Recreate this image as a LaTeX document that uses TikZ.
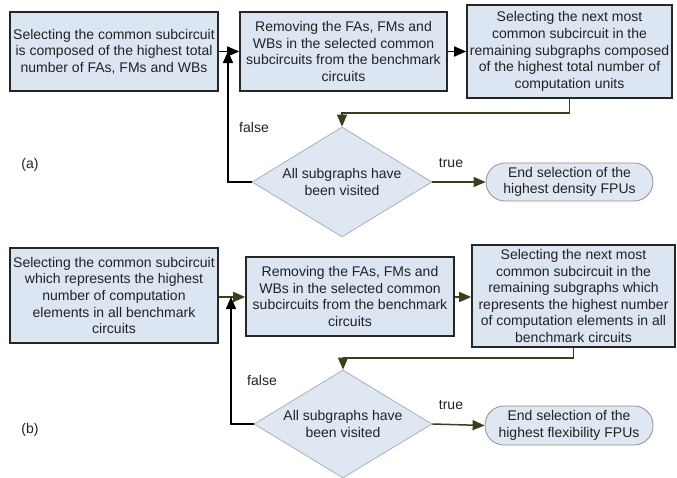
\documentclass[tikz,border=0pt]{standalone}
\usepackage{fontspec}
\setmainfont{Liberation Sans}
\usetikzlibrary{shapes.geometric,arrows.meta}
\definecolor{boxfill}{HTML}{DCE6F2}
\definecolor{dfill}{HTML}{DFE7F3}
\definecolor{olive}{HTML}{3E3E1C}
\definecolor{txt}{HTML}{222222}
\definecolor{dborder}{HTML}{A8B0BE}
\definecolor{tborder}{HTML}{8C9098}
\begin{document}
\begin{tikzpicture}[x=1pt,y=-1pt,
  every node/.style={text=txt,font=\fontsize{14}{16.6}\selectfont},
  procbox/.style={draw=black!85,line width=1.6pt,fill=boxfill,inner sep=0pt,align=center},
  decbox/.style={diamond,draw=dborder,line width=0.8pt,fill=dfill,inner sep=0pt,aspect=1.64,
    minimum width=180pt,minimum height=110pt,align=center},
  termbox/.style={draw=tborder,line width=0.8pt,fill=dfill,inner sep=0pt,rounded corners=19pt,align=center},
  blk/.style={draw=black,line width=1.5pt,-{Triangle[length=12pt,width=10pt]}},
  olv/.style={draw=olive,line width=1.5pt,-{Triangle[length=12pt,width=10pt]}},
  lbl/.style={inner sep=0pt}]
\useasboundingbox (0,0) rectangle (677,477);
% ---------- (a) ----------
\node[procbox,minimum width=208pt,minimum height=79pt] (a1) at (114,51.5)
  {Selecting the common subcircuit\\is composed of the highest total\\number of FAs, FMs and WBs};
\node[procbox,minimum width=207pt,minimum height=79pt] (a2) at (343.5,51.5)
  {Removing the FAs, FMs and\\WBs in the selected common\\subcircuits from the benchmark\\circuits};
\node[procbox,minimum width=205pt,minimum height=93pt] (a3) at (569.5,51.5)
  {Selecting the next most\\common subcircuit in the\\remaining subgraphs composed\\of the highest total number of\\computation units};
\node[decbox] (da) at (342,182) {All subgraphs have\\been visited};
\node[termbox,minimum width=167pt,minimum height=38pt] (ta) at (569.5,182)
  {End selection of the\\highest density FPUs};
\coordinate (fa) at (228,51);
\coordinate (ka) at (569.5,113);
\draw[blk] (a1) -- (a2);
\draw[blk] (a2) -- (a3);
\draw[olv] (a3.south) -- (ka) -| (da.north);
\draw[olv] (da.east) -- (ta.west);
\draw[blk] (da.west) -| (fa);
\node[lbl] (fla) at (254,127) {false};
\node[lbl] (tra) at (451,163) {true};
\node[lbl] (pa) at (30,165) {(a)};
% ---------- (b) ----------
\node[procbox,minimum width=208pt,minimum height=95pt] (b1) at (114,295.5)
  {Selecting the common subcircuit\\which represents the highest\\number of computation\\elements in all benchmark\\circuits};
\node[procbox,minimum width=208pt,minimum height=79pt] (b2) at (350,296.5)
  {Removing the FAs, FMs and\\WBs in the selected common\\subcircuits from the benchmark\\circuits};
\node[procbox,minimum width=203pt,minimum height=102pt] (b3) at (573.5,296)
  {Selecting the next most\\common subcircuit in the\\remaining subgraphs which\\represents the highest number\\of computation elements in all\\benchmark circuits};
\node[decbox,minimum width=178pt,minimum height=108pt] (db) at (343,424) {All subgraphs have\\been visited};
\node[termbox,minimum width=168pt,minimum height=39pt] (tb) at (569,425.5)
  {End selection of the\\highest flexibility FPUs};
\coordinate (fb) at (231,297);
\coordinate (kb) at (573.5,358);
\draw[olv] (b1.east |- fb) -- (b2.west |- fb);
\draw[olv] (b2.east |- fb) -- (b3.west |- fb);
\draw[olv] (b3.south) -- (kb) -| (db.north);
\draw[olv] (db.east) -- (tb.west);
\draw[blk] (db.west) -| (fb);
\node[lbl] (flb) at (262,380) {false};
\node[lbl] (trb) at (451,405) {true};
\node[lbl] (pb) at (30,430) {(b)};
\end{tikzpicture}
\end{document}
